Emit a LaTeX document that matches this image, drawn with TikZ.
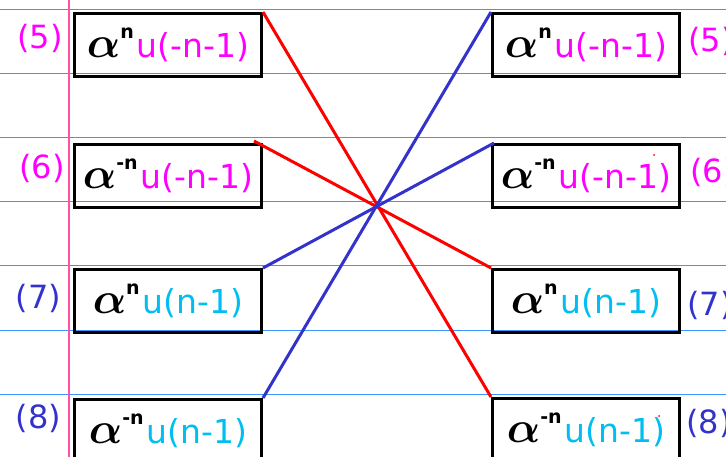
\documentclass[tikz,border=0pt]{standalone}
\usepackage{fontspec}
\usepackage{amsmath}
\usepackage{graphicx}
\setmainfont{DejaVu Sans}
\usetikzlibrary{calc}
\definecolor{mag}{RGB}{255,0,255}
\definecolor{violet}{RGB}{51,51,204}
\definecolor{cyantext}{RGB}{0,190,240}
\definecolor{rule}{RGB}{60,150,255}
\definecolor{margin}{RGB}{255,80,170}
\newcommand{\Aexp}[1]{\scalebox{4.4}{$\boldsymbol{\alpha}$}\raisebox{19pt}{\fontsize{19}{19}\selectfont\bfseries #1}}
\newcommand{\boxtext}[3]{\Aexp{#1}\hspace{3pt}{\fontsize{33}{33}\selectfont\textcolor{#2}{#3}}}
\tikzset{
  box/.style={draw=black, line width=3pt, minimum width=187pt, minimum height=63pt, anchor=north west, inner sep=0pt},
  lab/.style={font=\fontsize{32}{32}\selectfont, inner sep=0pt},
  redl/.style={draw=red, line width=3pt},
  bluel/.style={draw=violet, line width=3pt},
  ruling/.style={draw=rule, line width=1pt},
  marg/.style={draw=margin, line width=1.5pt}
}
\begin{document}
\begin{tikzpicture}[x=1pt,y=-1pt]
\useasboundingbox (0,0) rectangle (726,457);
\clip (0,0) rectangle (726,457);
% ruled paper
\foreach \yy in {10,74,138,202,266,330,394} {
  \draw[ruling] (0,\yy) -- (726,\yy);
}
\draw[marg] (69,0) -- (69,457);
% left boxes
\node[box] (L1) at (73,12) {\boxtext{n}{mag}{u(-n-1)}};
\node[box] (L2) at (73,143) {\boxtext{-n}{mag}{u(-n-1)}};
\node[box] (L3) at (73,268) {\boxtext{n}{cyantext}{u(n-1)}};
\node[box] (L4) at (73,398) {\boxtext{-n}{cyantext}{u(n-1)}};
% right boxes
\node[box] (R1) at (491,12) {\boxtext{n}{mag}{u(-n-1)}};
\node[box] (R2) at (491,143) {\boxtext{-n}{mag}{u(-n-1)}};
\node[box] (R3) at (491,268) {\boxtext{n}{cyantext}{u(n-1)}};
\node[box] (R4) at (491,397) {\boxtext{-n}{cyantext}{u(n-1)}};
% labels
\node[lab, text=mag] (l5) at (40,38) {(5)};
\node[lab, text=mag] (l6) at (42,168) {(6)};
\node[lab, text=violet] (l7) at (38.5,298) {(7)};
\node[lab, text=violet] (l8) at (38.5,418) {(8)};
\node[lab, text=mag, anchor=west] (r5) at (688,41) {(5)};
\node[lab, text=mag, anchor=west] (r6) at (690,172) {(6)};
\node[lab, text=violet, anchor=west] (r7) at (687,305) {(7)};
\node[lab, text=violet, anchor=west] (r8) at (686,423) {(8)};
% connectors
\draw[redl] (L1.north east) -- (R4.north west);
\draw[redl] ($(L2.north east)+(-9,-2)$) -- (R3.north west);
\draw[bluel] (L3.north east) -- ($(R2.north west)+(3,0)$);
\draw[bluel] (L4.north east) -- (R1.north west);
% stray dots
\fill[red] (654,155) circle (1pt);
\fill[red] (659,416) circle (1pt);
\end{tikzpicture}
\end{document}
